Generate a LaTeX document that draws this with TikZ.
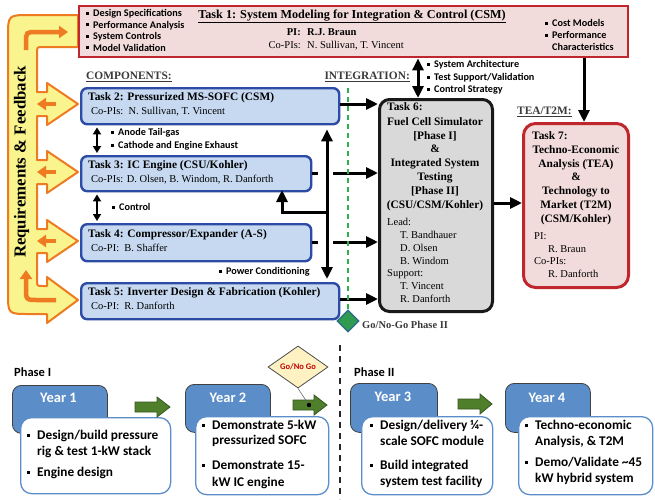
\documentclass[tikz,border=0pt]{standalone}
\usepackage{fontspec}
\setmainfont{Liberation Serif}
\newfontfamily\calib{Carlito}
\usetikzlibrary{arrows.meta,shapes.geometric}
\definecolor{redb}{HTML}{C0272D}
\definecolor{pinkf}{HTML}{F2DCDB}
\definecolor{blueb}{HTML}{2B4BA5}
\definecolor{bluef}{HTML}{C6D9F1}
\definecolor{greyf}{HTML}{D9D9D9}
\definecolor{yelf}{HTML}{F9F48E}
\definecolor{orng}{HTML}{EE7A22}
\definecolor{gdash}{HTML}{2DB24B}
\definecolor{gdia}{HTML}{2E9B4E}
\definecolor{gdiab}{HTML}{2B6C8A}
\definecolor{tabb}{HTML}{5B8DC8}
\definecolor{garr}{HTML}{4F7F2A}
\definecolor{garrb}{HTML}{34561C}
\definecolor{diaf}{HTML}{FFF2C2}
\definecolor{gored}{HTML}{C00000}
\definecolor{lblc}{HTML}{3A3A3A}
\newcommand{\sqb}{\makebox[8pt][l]{\hspace{1pt}\rule[0.17em]{2.8pt}{2.8pt}}}
\newcommand{\bsqb}{\makebox[11pt][l]{\hspace{1pt}\rule[0.2em]{3.2pt}{3.2pt}}}
\begin{document}
\begin{tikzpicture}[x=1pt,y=-1pt,
  txt/.style={inner sep=0pt, text height=0.7em, text depth=0.2em},
  ttl/.style={txt, font=\fontsize{11.4}{13}\selectfont\bfseries},
  reg/.style={txt, font=\fontsize{10.5}{12}\selectfont},
  bul/.style={txt, anchor=west, font=\calib\bfseries\fontsize{10.2}{11}\selectfont},
  ybul/.style={txt, anchor=west, font=\calib\bfseries\fontsize{13.3}{15}\selectfont},
  ylab/.style={txt, text=white, font=\calib\bfseries\fontsize{14.5}{16}\selectfont},
  phl/.style={txt, anchor=west, font=\calib\bfseries\fontsize{12.5}{14}\selectfont},
  hdr/.style={txt, anchor=west, text=lblc, font=\fontsize{11.4}{13}\selectfont\bfseries},
  bluebox/.style={draw=blueb, fill=bluef, line width=2.4pt, rounded corners=6pt, anchor=north west, inner sep=0pt},
  conn/.style={line width=3pt, -{Triangle[width=11pt,length=12pt]}},
  conn2/.style={line width=3pt, {Triangle[width=11pt,length=12pt]}-{Triangle[width=11pt,length=12pt]}},
  sconn/.style={line width=2.4pt, {Triangle[width=8pt,length=7pt]}-{Triangle[width=8pt,length=7pt]}},
  oarr/.style={draw=orng, line width=4.5pt, -{Triangle[width=12pt,length=9pt]}},
  tab/.style={draw=black!75, fill=tabb, line width=0.8pt, rounded corners=9pt, anchor=north west, inner sep=0pt},
  ybox/.style={draw=tabb, fill=white, line width=1.3pt, rounded corners=11pt, anchor=north west, inner sep=0pt},
  garrow/.style={fill=garr, draw=garrb, line width=0.8pt}
]
\useasboundingbox (0,0) rectangle (655,499);

% ---------- yellow requirements & feedback shape ----------
\filldraw[fill=yelf, draw=orng, line width=2pt, line join=round]
 (78,15) -- (30,15) .. controls (8,15) .. (8,37)
 -- (8,293) .. controls (8,314) .. (29,314)
 -- (47,314) -- (47,323) -- (78,300) -- (47,277) -- (47,286)
 -- (43,286) .. controls (37,286) .. (37,280)
 -- (37,253) -- (47,253) -- (47,262) -- (78,241) -- (47,220) -- (47,229) -- (37,229)
 -- (37,184) -- (47,184) -- (47,193) -- (78,172) -- (47,151) -- (47,160) -- (37,160)
 -- (37,116) -- (47,116) -- (47,125) -- (78,104) -- (47,83) -- (47,92) -- (37,92)
 -- (37,53) .. controls (37,47) .. (43,47) -- (78,47) -- cycle;
\draw[oarr] (26,50) -- (26,43) .. controls (26,32) .. (37,32) -- (68,32);
\draw[oarr] (56,300) -- (38,300) .. controls (26,300) .. (26,288) -- (26,270);
\draw[oarr] (56,104) -- (37,104);
\draw[oarr] (56,172) -- (37,172);
\draw[oarr] (56,241) -- (37,241);
\node[txt, rotate=90, font=\fontsize{16.8}{18}\selectfont\bfseries] (rf) at (23,162) {Requirements \& Feedback};

% ---------- Task 1 ----------
\node[draw=redb, fill=pinkf, line width=2.4pt, anchor=north west, minimum width=549pt, minimum height=51pt, inner sep=0pt] (t1) at (78,5) {};
\node[bul] (b1a) at (85,14) {\sqb Design Specifications};
\node[bul] (b1b) at (85,25.5) {\sqb Performance Analysis};
\node[bul] (b1c) at (85,37) {\sqb System Controls};
\node[bul] (b1d) at (85,48.5) {\sqb Model Validation};
\node[txt, font=\fontsize{12.2}{14}\selectfont\bfseries] (t1t) at (352,16) {\underline{Task 1: System Modeling for Integration \& Control (CSM)}};
\node[txt, anchor=east, font=\fontsize{10.5}{12}\selectfont\bfseries] (pil) at (301,33) {PI:};
\node[txt, anchor=west, font=\fontsize{10.5}{12}\selectfont\bfseries] (pin) at (307,33) {R.J. Braun};
\node[reg, anchor=east] (cpl) at (301,46) {Co-PIs:};
\node[reg, anchor=west] (cpn) at (307,46) {N. Sullivan, T. Vincent};
\node[bul] (b1e) at (544,24) {\sqb Cost Models};
\node[bul] (b1f) at (544,36) {\sqb Performance};
\node[bul] (b1g) at (552,47.5) {Characteristics};

% ---------- headers ----------
\node[hdr] (hc) at (86,77) {\underline{COMPONENTS:}};
\node[hdr, anchor=east] (hi) at (410,77) {\underline{INTEGRATION:}};
\node[hdr] (ht) at (517,112) {\underline{TEA/T2M:}};

% ---------- component tasks ----------
\node[bluebox, minimum width=258pt, minimum height=36pt] (t2) at (80,87) {};
\node[ttl, anchor=west] (t2a) at (88,98) {Task 2: Pressurized MS-SOFC (CSM)};
\node[reg, anchor=west] (t2b) at (91,112) {Co-PIs:\ \ N. Sullivan, T. Vincent};

\node[bluebox, minimum width=230pt, minimum height=35pt] (t3) at (80,155) {};
\node[ttl, anchor=west] (t3a) at (88,166) {Task 3: IC Engine (CSU/Kohler)};
\node[reg, anchor=west] (t3b) at (91,180) {Co-PIs: D. Olsen, B. Windom, R. Danforth};

\node[bluebox, minimum width=230pt, minimum height=37pt] (t4) at (80,223) {};
\node[ttl, anchor=west] (t4a) at (88,235) {Task 4: Compressor/Expander (A-S)};
\node[reg, anchor=west] (t4b) at (91,249) {Co-PI:\ \ B. Shaffer};

\node[bluebox, minimum width=258pt, minimum height=36pt] (t5) at (80,282) {};
\node[ttl, anchor=west] (t5a) at (88,293) {Task 5: Inverter Design \& Fabrication (Kohler)};
\node[reg, anchor=west] (t5b) at (91,307) {Co-PI:\ \ R. Danforth};

\node[bul] (an1) at (110,133) {\sqb Anode Tail-gas};
\node[bul] (an2) at (110,146) {\sqb Cathode and Engine Exhaust};
\node[bul] (ctl) at (111,208) {\sqb Control};
\node[bul] (pwc) at (218,272) {\sqb Power Conditioning};

% ---------- Task 6 ----------
\node[draw=black!90, fill=greyf, line width=3pt, rounded corners=10pt, anchor=north west, minimum width=113pt, minimum height=212pt, inner sep=0pt] (t6) at (378,98) {};
\node[ttl, anchor=west] (t6a) at (387,108) {Task 6:};
\node[ttl] (t6b) at (435,123) {Fuel Cell Simulator};
\node[ttl] (t6c) at (435,137) {[Phase I]};
\node[ttl] (t6d) at (435,150) {\&};
\node[ttl] (t6e) at (435,164) {Integrated System};
\node[ttl] (t6f) at (435,177.5) {Testing};
\node[ttl] (t6g) at (435,191.5) {[Phase II]};
\node[ttl] (t6h) at (435,205.5) {(CSU/CSM/Kohler)};
\node[reg, anchor=west] (t6i) at (387,223) {Lead:};
\node[reg, anchor=west] (t6j) at (400,236) {T. Bandhauer};
\node[reg, anchor=west] (t6k) at (400,249) {D. Olsen};
\node[reg, anchor=west] (t6l) at (400,261.5) {B. Windom};
\node[reg, anchor=west] (t6m) at (387,274) {Support:};
\node[reg, anchor=west] (t6n) at (400,287) {T. Vincent};
\node[reg, anchor=west] (t6o) at (400,299.5) {R. Danforth};

% ---------- Task 7 ----------
\node[draw=redb, fill=pinkf, line width=3pt, rounded corners=12pt, anchor=north west, minimum width=105pt, minimum height=164pt, inner sep=0pt] (t7) at (522,122) {};
\node[ttl, anchor=west] (t7a) at (532,137) {Task 7:};
\node[ttl] (t7b) at (576,151) {Techno-Economic};
\node[ttl] (t7c) at (576,165) {Analysis (TEA)};
\node[ttl] (t7d) at (576,178) {\&};
\node[ttl] (t7e) at (576,192) {Technology to};
\node[ttl] (t7f) at (576,206) {Market (T2M)};
\node[ttl] (t7g) at (576,220) {(CSM/Kohler)};
\node[reg, anchor=west] (t7h) at (534,237) {PI:};
\node[reg, anchor=west] (t7i) at (548,250) {R. Braun};
\node[reg, anchor=west] (t7j) at (534,262) {Co-PIs:};
\node[reg, anchor=west] (t7k) at (548,275) {R. Danforth};

% ---------- integration connectors ----------
\coordinate (x16) at (418,0);
\coordinate (x17) at (584,0);
\coordinate (y67) at (0,203);
\coordinate (y2) at (0,104);
\coordinate (y3) at (0,173);
\coordinate (y4) at (0,242);
\coordinate (y5) at (0,299);
\coordinate (bus) at (327,0);
\coordinate (s3) at (318,173);
\coordinate (r3) at (333,173);
\coordinate (s4) at (318,242);
\coordinate (r4) at (333,242);
\coordinate (br) at (327,212);
\coordinate (b3) at (282,190);
\coordinate (x97) at (97,0);
\draw[conn2] (x16 |- t1.south) -- (x16 |- t6.north);
\node[bul] (sa1) at (426,65) {\sqb System Architecture};
\node[bul] (sa2) at (426,78) {\sqb Test Support/Validation};
\node[bul] (sa3) at (426,90) {\sqb Control Strategy};
\draw[conn] (x17 |- t1.south) -- (x17 |- t7.north);
\draw[conn] (y67 -| t6.east) -- (y67 -| t7.west);
\draw[conn] (y2 -| t2.east) -- (y2 -| t6.west);
\draw[line width=3pt] (y3 -| t3.east) -- (s3);
\draw[conn] (r3) -- (y3 -| t6.west);
\draw[line width=3pt] (y4 -| t4.east) -- (s4);
\draw[conn] (r4) -- (y4 -| t6.west);
\draw[conn] (y5 -| t5.east) -- (y5 -| t6.west);
\draw[conn2, shorten <=4pt, shorten >=3pt] (bus |- t2.south) -- (bus |- t5.north);
\draw[conn, line join=miter] (br) -| (b3);
\draw[sconn, shorten <=2pt, shorten >=2pt] (x97 |- t2.south) -- (x97 |- t3.north);
\draw[sconn, shorten <=2pt, shorten >=2pt] (x97 |- t3.south) -- (x97 |- t4.north);

% ---------- go / no-go phase II ----------
\node[diamond, draw=gdiab, fill=gdia, line width=1.2pt, minimum width=22pt, minimum height=22pt, inner sep=0pt] (gd) at (348,321) {};
\coordinate (gtop) at (348,88);
\draw[gdash, line width=2.2pt, dash pattern=on 5pt off 4pt] (gtop) -- (gd.north);
\node[txt, anchor=west, font=\fontsize{10.5}{12}\selectfont\bfseries, text=lblc] (gdl) at (362,326) {Go/No-Go Phase II};

% ---------- timeline ----------
\coordinate (dtop) at (340,345);
\coordinate (dbot) at (340,499);
\draw[black!85, line width=1.3pt, dash pattern=on 6pt off 5pt] (dtop) -- (dbot);
\node[phl] (ph1) at (14,374) {Phase I};
\node[phl] (ph2) at (354,374) {Phase II};

\node[tab, minimum width=95pt, minimum height=48pt] (y1t) at (12,385) {};
\node[ybox, minimum width=150pt, minimum height=76pt] (y1b) at (20,417) {};
\node[ylab] (y1l) at (58.5,400) {Year 1};
\node[ybul] (y1a) at (26,437) {\bsqb Design/build pressure};
\node[ybul] (y1c) at (37,453) {rig \& test 1-kW stack};
\node[ybul] (y1d) at (26,474) {\bsqb Engine design};

\node[tab, minimum width=85pt, minimum height=48pt] (y2t) at (185,384) {};
\node[ybox, minimum width=133pt, minimum height=78pt] (y2b) at (195,416) {};
\node[ylab] (y2l) at (228,400) {Year 2};
\node[ybul] (y2a) at (201,427) {\bsqb Demonstrate 5-kW};
\node[ybul] (y2c) at (212,442) {pressurized SOFC};
\node[ybul] (y2d) at (201,467) {\bsqb Demonstrate 15-};
\node[ybul] (y2e) at (212,484) {kW IC engine};

\node[tab, minimum width=87pt, minimum height=49pt] (y3t) at (350,383) {};
\node[ybox, minimum width=131pt, minimum height=78pt] (y3b) at (361,416) {};
\node[ylab] (y3l) at (393,399) {Year 3};
\node[ybul] (y3a) at (369,427) {\bsqb Design/delivery ¼-};
\node[ybul] (y3c) at (380,443) {scale SOFC module};
\node[ybul] (y3d) at (369,467) {\bsqb Build integrated};
\node[ybul] (y3e) at (380,483) {system test facility};

\node[tab, minimum width=85pt, minimum height=49pt] (y4t) at (505,383) {};
\node[ybox, minimum width=134pt, minimum height=78pt] (y4b) at (518,416) {};
\node[ylab] (y4l) at (547,400) {Year 4};
\node[ybul] (y4a) at (524,427) {\bsqb Techno-economic};
\node[ybul] (y4c) at (535,443) {Analysis, \& T2M};
\node[ybul] (y4d) at (524,464) {\bsqb Demo/Validate \textasciitilde45};
\node[ybul] (y4e) at (535,480) {kW hybrid system};

\draw[garrow] (135,402) -- (157,402) -- (157,397) -- (170,407) -- (157,417) -- (157,412) -- (135,412) -- cycle;
\draw[garrow] (293,400) -- (314,400) -- (314,395) -- (327,405) -- (314,415) -- (314,410) -- (293,410) -- cycle;
\draw[garrow] (458,399) -- (480,399) -- (480,394) -- (492,404) -- (480,414) -- (480,409) -- (458,409) -- cycle;

\node[diamond, draw=black!70, fill=diaf, line width=0.8pt, minimum width=60pt, minimum height=30pt, inner sep=0pt, font=\calib\bfseries\fontsize{8.5}{10}\selectfont, text=gored] (gng) at (298,367) {Go/No Go};
\coordinate (gdot) at (309,405);
\draw[black!60, line width=0.6pt] (gng.south) -- (gdot);
\fill[black] (gdot) circle (2.2pt);
\end{tikzpicture}
\end{document}
